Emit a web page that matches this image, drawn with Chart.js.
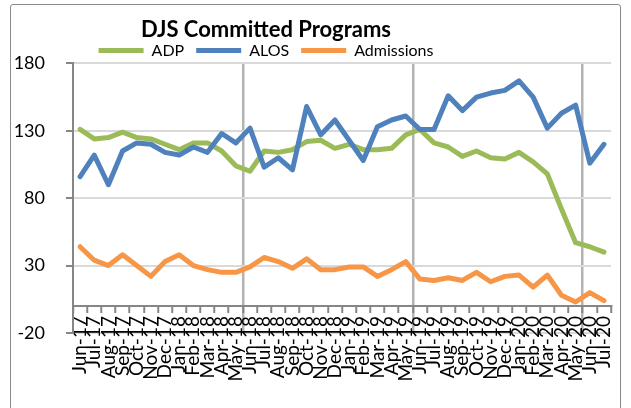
<!DOCTYPE html>
<html>
<head>
<meta charset="utf-8">
<script src="https://cdn.jsdelivr.net/npm/chart.js@4"></script>
<style>
  html, body { margin: 0; padding: 0; background: #fff; }
  #frame { position: absolute; left: 10px; top: 4px; width: 609px; height: 410px; border: 1px solid #8a8a8a; border-radius: 3px; }
  #chart { position: absolute; left: 0; top: 0; }
</style>
</head>
<body>
<div id="frame"></div>
<canvas id="chart" width="631" height="408"></canvas>
<script>
const months = ['Jun-17','Jul-17','Aug-17','Sep-17','Oct-17','Nov-17','Dec-17','Jan-18','Feb-18','Mar-18','Apr-18','May-18',
                'Jun-18','Jul-18','Aug-18','Sep-18','Oct-18','Nov-18','Dec-18','Jan-19','Feb-19','Mar-19','Apr-19','May-19',
                'Jun-19','Jul-19','Aug-19','Sep-19','Oct-19','Nov-19','Dec-19','Jan-20','Feb-20','Mar-20','Apr-20','May-20',
                'Jun-20','Jul-20'];
const adp = [131,124,125,129,125,124,120,116,121,121,115,104,100,115,114,116,122,123,117,120,116,116,117,127,
             131,121,118,111,115,110,109,114,107,98,72,47,44,40];
const alos = [96,112,90,115,121,120,114,112,118,114,128,121,132,103,110,101,148,127,138,123,108,133,138,141,
              131,131,156,145,155,158,160,167,155,132,143,149,106,120];
const admissions = [44,34,30,38,30,22,33,38,30,27,25,25,29,36,33,28,35,27,27,29,29,22,27,33,
                    20,19,21,19,25,18,22,23,14,23,8,3,10,4];
const yTicks = [-20, 30, 80, 130, 180];

Chart.defaults.font.family = 'Lato, "Liberation Sans", sans-serif';
Chart.defaults.color = '#000';

// lines on the legend are plain filled bars, no outline
function legendItems(chart) {
    return Chart.defaults.plugins.legend.labels.generateLabels(chart).map(l => ({...l, lineWidth: 0}));
}

const ctx = document.getElementById('chart').getContext('2d');
const myChart = new Chart(ctx, {
    type: 'line',
    data: {
        labels: months,
        datasets: [
            {label: 'ADP', data: adp, borderColor: '#9BBB59', backgroundColor: '#9BBB59', order: 3},
            {label: 'ALOS', data: alos, borderColor: '#4F81BD', backgroundColor: '#4F81BD', order: 2},
            {label: 'Admissions', data: admissions, borderColor: '#F79646', backgroundColor: '#F79646', order: 1}
        ]
    },
    options: {
        responsive: false,
        animation: false,
        devicePixelRatio: 1,
        // title + legend sit left of centre in the original, so the box starts off-canvas
        layout: {padding: {top: 6, left: -80, right: 19, bottom: 75}},
        elements: {
            line: {borderWidth: 5, tension: 0, borderJoinStyle: 'round', borderCapStyle: 'round'},
            point: {radius: 0, hoverRadius: 0}
        },
        plugins: {
            title: {
                display: true,
                text: 'DJS Committed Programs',
                font: {size: 22, weight: 'bold'},
                color: '#000',
                padding: {top: 11, bottom: -13}
            },
            legend: {
                maxHeight: 33,
                labels: {
                    boxWidth: 45,
                    boxHeight: 5,
                    padding: 12,
                    font: {size: 16},
                    color: '#000',
                    generateLabels: legendItems,
                    sort: (a, b) => a.datasetIndex - b.datasetIndex
                }
            },
            tooltip: {enabled: false}
        },
        scales: {
            x: {
                position: {y: 0},
                offset: true,
                grid: {
                    offset: true,
                    color: c => (c.index > 0 && c.index % 12 === 0) ? '#b3b3b3' : 'rgba(0,0,0,0)',
                    lineWidth: 2.5,
                    tickLength: 6,
                    tickColor: '#868686',
                    tickWidth: 2
                },
                border: {color: '#868686', width: 2},
                ticks: {autoSkip: false, minRotation: 90, maxRotation: 90, font: {size: 19}, color: '#000', padding: 4}
            },
            y: {
                min: -20,
                max: 180,
                afterBuildTicks: s => { s.ticks = yTicks.map(v => ({value: v})); },
                afterFit: s => { s.width = 153; },
                grid: {color: '#d9d9d9', lineWidth: 2, tickLength: 7, tickColor: '#868686', tickWidth: 2},
                border: {color: '#868686', width: 2},
                ticks: {font: {size: 18}, color: '#000', padding: 21}
            }
        }
    }
});
</script>
</body>
</html>
